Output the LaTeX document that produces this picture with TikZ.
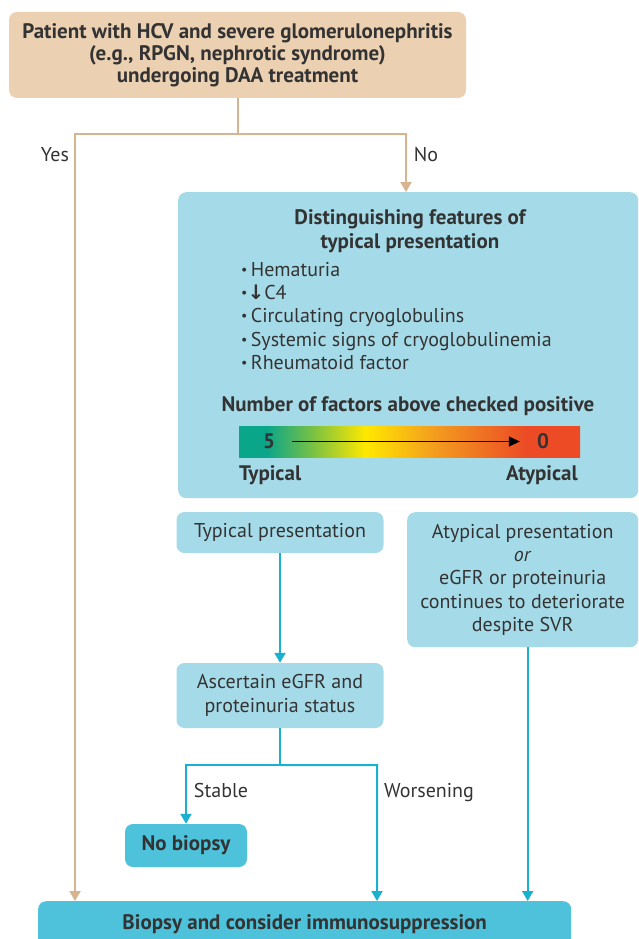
\documentclass[tikz,border=0pt]{standalone}
\usepackage{fontspec}
\setmainfont{PT Sans}
\newfontfamily\arrowfont{DejaVu Sans}
\usetikzlibrary{arrows.meta,positioning,shapes}
\definecolor{sandfill}{HTML}{EBD0B2}
\definecolor{sandline}{HTML}{D7B48F}
\definecolor{paleblue}{HTML}{A5DBE8}
\definecolor{deepblue}{HTML}{4DC2DA}
\definecolor{flowblue}{HTML}{1AB0CF}
\definecolor{inkgray}{HTML}{333333}
\definecolor{scaleteal}{HTML}{0AA68A}
\definecolor{scalegreen}{HTML}{7DC242}
\definecolor{scaleyellow}{HTML}{FFE800}
\definecolor{scaleorange}{HTML}{F39A1F}
\definecolor{scalered}{HTML}{EC4B25}
\pgfdeclarehorizontalshading{factorscale}{100bp}{color(0bp)=(scaleteal); color(29bp)=(scaleteal); color(36bp)=(scalegreen); color(43.5bp)=(scaleyellow); color(54bp)=(scaleorange); color(67bp)=(scalered); color(100bp)=(scalered)}
\newcommand{\listdot}{\raisebox{0.1em}{\fontsize{14}{14}\selectfont\textbullet}}
\tikzstyle{startbox}=[fill=sandfill, rounded corners=8pt, align=center, font=\fontsize{21}{22}\selectfont\bfseries]
\tikzstyle{infobox}=[fill=paleblue, rounded corners=8pt, align=center]
\tikzstyle{endbox}=[fill=deepblue, rounded corners=8pt, align=center, font=\fontsize{21}{22}\selectfont\bfseries]
\tikzstyle{sandarrow}=[draw=sandline, line width=2pt]
\tikzstyle{bluearrow}=[draw=flowblue, line width=2pt]
\tikzstyle{heading}=[font=\fontsize{21}{24}\selectfont\bfseries, align=center]

\begin{document}
\begin{tikzpicture}[x=1pt, y=-1pt, >={Triangle[length=10pt,width=11pt]},
    font=\fontsize{20}{23.3}\selectfont, text=inkgray]
\useasboundingbox (0,0) rectangle (638,939);

% start
\node [startbox, minimum width=457pt, minimum height=86pt] (patient) at (237.5,55) {Patient with HCV and severe glomerulonephritis\\(e.g., RPGN, nephrotic syndrome)\\undergoing DAA treatment};

% features of typical presentation
\node [infobox, minimum width=460pt, minimum height=306pt, anchor=north west] (features) at (178,192) {};
\node [heading] (featuretitle) at (410,231) {Distinguishing features of\\typical presentation};
\node [anchor=north west, align=left, inner sep=0pt] (featurelist) at (241,262) {%
\listdot\,Hematuria\\
\listdot{\arrowfont\bfseries\char"2193}C4\\
\listdot\,Circulating cryoglobulins\\
\listdot\,Systemic signs of cryoglobulinemia\\
\listdot\,Rheumatoid factor};
\node [heading] (scaletitle) at (408,406) {Number of factors above checked positive};
\node [minimum width=341pt, minimum height=31pt, inner sep=0pt, anchor=north west, shading=factorscale] (factorbar) at (239,426) {};
\node [heading, inner sep=0pt] (five) at (269,441.5) {5};
\node [heading, inner sep=0pt] (zero) at (543,441.5) {0};
\draw [->, line width=1.4pt, >={Triangle[length=11pt,width=10pt]}, shorten <=17pt, shorten >=17pt] (five.east) -- (zero.west);
\node [heading, anchor=west, inner sep=0pt] (typlabel) at (239,475) {Typical};
\node [heading, anchor=east, inner sep=0pt] (atyplabel) at (578,475) {Atypical};

% outcomes
\node [infobox, minimum width=207pt, minimum height=41pt] (typical) at (280,532.5) {Typical presentation};
\node [infobox, minimum width=231pt, minimum height=135pt, anchor=north west] (atypical) at (407,512) {Atypical presentation\\\textit{or}\\eGFR or proteinuria\\continues to deteriorate\\despite SVR};
\node [infobox, minimum width=207pt, minimum height=65pt] (ascertain) at (280,695.5) {Ascertain eGFR and\\proteinuria status};
\node [endbox, minimum width=122pt, minimum height=43pt] (nobiopsy) at (186,845.5) {No biopsy};
\node [endbox, minimum width=533pt, minimum height=46pt, anchor=north west] (final) at (38,901) {Biopsy and consider immunosuppression};

% yes / no
\coordinate (yesturn) at (75,134);
\coordinate (noturn) at (406,134);
\draw [sandarrow, ->] (patient.south) |- (yesturn) -- (yesturn |- final.north);
\draw [sandarrow, ->] (patient.south) |- (noturn) -- (noturn |- features.north);
\node (yes) at (55,155) {Yes};
\node (no) at (426,155) {No};

% typical branch
\draw [bluearrow, ->] (typical) -- (ascertain);
\draw [bluearrow] (ascertain.south) -- ++(0,37) coordinate (fork);
\coordinate (worseturn) at (377,765);
\draw [bluearrow, ->] (fork) -| (nobiopsy.north);
\draw [bluearrow, ->] (fork) -- (worseturn) -- (worseturn |- final.north);
\node [anchor=base] (stable) at (221,797) {Stable};
\node [anchor=base] (worsening) at (429,797) {Worsening};

% atypical branch
\draw [bluearrow, ->] ([xshift=5pt]atypical.south) -- ([xshift=5pt]atypical.south |- final.north);
\end{tikzpicture}
\end{document}
